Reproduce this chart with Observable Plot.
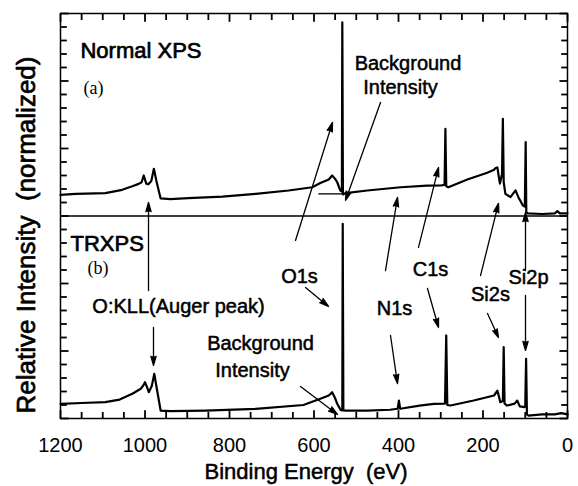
<!DOCTYPE html>
<html>
<head>
<meta charset="utf-8">
<script src="https://cdn.jsdelivr.net/npm/d3@7"></script>
<script src="https://cdn.jsdelivr.net/npm/@observablehq/plot@0.6"></script>
<style>
  body { margin: 0; background: #fff; }
  #chart { width: 578px; height: 486px; }
</style>
</head>
<body>
<div id="chart"></div>
<script>
// ---- Data (binding energy in eV, intensity in panel units 0–15) ----
const topEnergy = [
  1200, 1164, 1094, 1054, 1030, 1015, 1008, 1003, 997, 992,
  985, 979, 973, 963, 940, 897, 817, 738, 660, 604,
  585, 565, 557, 550, 545, 538, 534, 533, 531.5, 525,
  474, 395, 332, 300, 291, 289, 287, 282, 237, 190,
  175, 170, 166, 160, 155, 153, 151, 147, 135, 123,
  115, 111, 106, 101, 99, 97.5, 94, 60, 30, 24,
  18, 0
];
const topIntensity = [
  1.57, 1.64, 1.69, 1.94, 2.2, 2.38, 2.5, 3.0, 2.4, 2.35,
  2.6, 3.5, 2.6, 1.3, 1.25, 1.32, 1.44, 1.64, 1.89, 2.13,
  2.45, 2.7, 3.0, 2.75, 2.5, 1.9, 1.8, 14.35, 1.6, 1.7,
  1.89, 2.13, 2.25, 2.26, 2.3, 6.46, 2.2, 2.13, 2.7, 3.2,
  3.4, 3.55, 3.6, 2.4, 3.1, 7.2, 2.5, 1.64, 1.4, 1.9,
  1.3, 1.1, 0.8, 0.7, 5.47, 0.28, 0.2, 0.15, 0.2, 0.36,
  0.2, 0.2
];
const bottomEnergy = [
  1200, 1150, 1094, 1060, 1030, 1010, 1003, 1000, 995, 991,
  984, 978, 972, 963, 940, 857, 738, 625, 585, 565,
  557, 550, 545, 537, 533, 532, 530.5, 525, 474, 420,
  402, 399, 396, 350, 316, 290, 287, 284.5, 277, 222,
  174, 166, 162, 159, 153, 151, 149, 143, 125, 119,
  113, 102, 100, 98, 96, 93, 60, 30, 15, 0
];
const bottomIntensity = [
  1.09, 1.15, 1.21, 1.4, 1.83, 2.2, 2.5, 2.69, 2.3, 1.95,
  2.4, 3.31, 2.2, 0.59, 0.55, 0.59, 0.72, 1.0, 1.46, 1.7,
  1.95, 1.5, 1.09, 0.64, 0.6, 14.42, 0.6, 0.59, 0.59, 0.65,
  0.72, 1.33, 0.72, 0.95, 1.09, 1.1, 6.15, 1.0, 0.96, 1.33,
  1.7, 2.07, 1.6, 1.21, 1.3, 5.28, 1.1, 0.96, 1.1, 1.33,
  0.9, 0.84, 0.9, 4.42, 0.3, 0.22, 0.3, 0.3, 0.4, 0.3
];
const panelHeight = 15;           // each panel spans 15 units; (a) sits above (b)

// axis tick labels
const xTickLabels = [1200, 1000, 800, 600, 400, 200, 0];

// annotation texts (positions in data units of the stacked chart, 0–30)
const peakLabels = ["O:KLL(Auger peak)", "O1s", "N1s", "C1s", "Si2s", "Si2p",
                    "Background", "Intensity", "Background", "Intensity"];
const peakLabelEnergy = [920.7, 634.3, 409.5, 324.3, 182.3, 92.3, 377.5, 395.3, 726.6, 745.6];
const peakLabelLevel  = [7.78, 10.07, 7.63, 10.52, 8.74, 9.93, 25.78, 24.07, 5.04, 3.11];

const panelTitles = ["Normal XPS", "TRXPS"];
const panelTitleEnergy = [1152.7, 1176.3];
const panelTitleLevel = [26.67, 12.44];

const panelTags = ["(a)", "(b)"];
const panelTagEnergy = [1145.6, 1136.1];
const panelTagLevel = [24.07, 10.67];

// arrows: from (energy, level) to (energy, level)
const arrowFromEnergy = [991.7, 979.9, 643.8, 620.1, 442.6, 430.8, 418.9, 352.7, 331.4, 205.9, 189.3, 99.4, 99.4, 631.9];
const arrowFromLevel  = [9.48, 6.74, 13.19, 9.70, 23.41, 10.96, 6.15, 12.67, 9.63, 10.59, 7.78, 10.96, 9.11, 2.37];
const arrowToEnergy   = [991.7, 979.9, 556.2, 565.7, 525.4, 402.4, 402.4, 305.3, 305.3, 163.3, 163.3, 99.4, 99.4, 544.4];
const arrowToLevel    = [16.0, 3.93, 21.93, 8.30, 16.15, 16.37, 2.59, 18.59, 6.74, 15.93, 6.0, 15.26, 5.04, 0.30];

// background level marker in panel (a)
const backgroundEnergy = [588.6, 525.4];
const backgroundLevel = 16.64;

// ---- Build ----
const topSeries = topEnergy.map((e, i) => ({e, v: topIntensity[i]}));
const bottomSeries = bottomEnergy.map((e, i) => ({e, v: bottomIntensity[i]}));
const allX = d3.range(0, 1201, 50);
const allY = d3.range(0, 2 * panelHeight + 1, 1);
const arrowIdx = arrowFromEnergy.map((_, i) => i);

// inward tick lengths expressed in scale units (≈6px minor, ≈8px major)
const lenX = d => (d % 200 === 0 ? 0.62 : 0.48);  // vertical ticks on bottom/top edges (y units)
const lenY = d => (d % 5 === 0 ? 19 : 15);        // horizontal ticks on left/right edges (eV)
const yTop = 2 * panelHeight;

const font = "'Liberation Sans', Arial, sans-serif";
const tickStyle = {stroke: "black", strokeWidth: 1.8};
const ink = {fill: "black", stroke: "black", strokeWidth: 0.5};

const chart = Plot.plot({
  width: 578,
  height: 486,
  marginTop: 13,
  marginRight: 11,
  marginBottom: 68,
  marginLeft: 60,
  style: {fontFamily: font, color: "black", background: "white"},
  x: {domain: [1200, 0]},
  y: {domain: [0, yTop], axis: null},
  marks: [
    Plot.frame({stroke: "black", strokeWidth: 1.5}),
    Plot.ruleY([panelHeight], {stroke: "black", strokeWidth: 1.3}),
    // inward ticks on all four edges
    Plot.link(allX, {x1: d => d, x2: d => d, y1: 0, y2: d => lenX(d), ...tickStyle}),
    Plot.link(allX, {x1: d => d, x2: d => d, y1: yTop, y2: d => yTop - lenX(d), ...tickStyle}),
    Plot.link(allY, {y1: d => d, y2: d => d, x1: 1200, x2: d => 1200 - lenY(d), ...tickStyle}),
    Plot.link(allY, {y1: d => d, y2: d => d, x1: 0, x2: d => lenY(d), ...tickStyle}),
    Plot.axisX({ticks: xTickLabels, tickFormat: d => String(d), anchor: "bottom", tickSize: 0, tickPadding: 19,
      fontSize: 20, label: null, stroke: "black", strokeWidth: 0.4}),
    // spectra
    Plot.line(topSeries, {x: "e", y: d => d.v + panelHeight, stroke: "black", strokeWidth: 2.2, strokeLinejoin: "round"}),
    Plot.line(bottomSeries, {x: "e", y: "v", stroke: "black", strokeWidth: 2.2, strokeLinejoin: "round"}),
    // background level line
    Plot.ruleY([backgroundLevel], {x1: backgroundEnergy[0], x2: backgroundEnergy[1], stroke: "black", strokeWidth: 1.3}),
    // arrows
    Plot.arrow(arrowIdx, {
      x1: i => arrowFromEnergy[i], y1: i => arrowFromLevel[i],
      x2: i => arrowToEnergy[i], y2: i => arrowToLevel[i],
      stroke: "black", fill: "black", strokeWidth: 1.3, headLength: 11, headAngle: 32
    }),
    // labels
    Plot.text(peakLabels, {x: (d, i) => peakLabelEnergy[i], y: (d, i) => peakLabelLevel[i], text: d => d,
      lineAnchor: "bottom", textAnchor: "middle", fontSize: 20, ...ink}),
    Plot.text(panelTitles, {x: (d, i) => panelTitleEnergy[i], y: (d, i) => panelTitleLevel[i], text: d => d,
      lineAnchor: "bottom", textAnchor: "start", fontSize: 22, ...ink, strokeWidth: 0.7}),
    Plot.text(panelTags, {x: (d, i) => panelTagEnergy[i], y: (d, i) => panelTagLevel[i], text: d => d,
      lineAnchor: "bottom", textAnchor: "start", fontSize: 18, fontFamily: "'Liberation Serif', 'Times New Roman', serif", fill: "black"}),
    // axis titles
    Plot.text(["Binding Energy\u00a0\u00a0(eV)"], {frameAnchor: "bottom", dy: 60, dx: -8, lineAnchor: "bottom",
      textAnchor: "middle", fontSize: 22, ...ink}),
    Plot.text(["Relative Intensity\u00a0\u00a0(normalized)"], {frameAnchor: "left", rotate: -90, dx: -26, dy: 19,
      lineAnchor: "bottom", textAnchor: "middle", fontSize: 26, ...ink, strokeWidth: 0.7})
  ]
});
document.getElementById("chart").appendChild(chart);
</script>
</body>
</html>
